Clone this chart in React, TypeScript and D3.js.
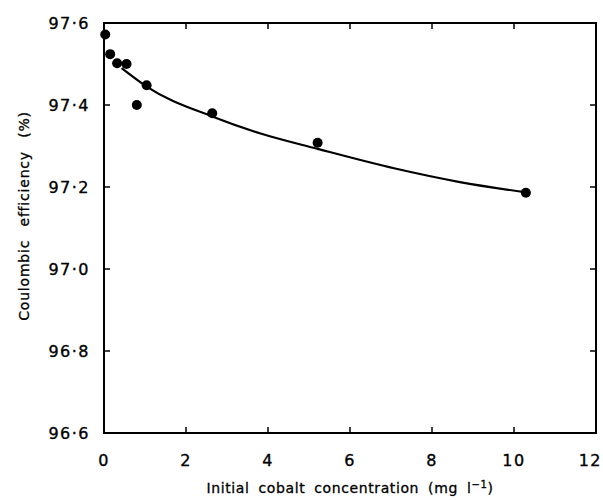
import React from 'react';
import * as d3 from 'd3';

const width = 603;
const height = 500;
const margin = { top: 23, left: 104, right: 7, bottom: 67 };

// measured points
const concX = [0.03, 0.15, 0.32, 0.55, 0.8, 1.04, 2.64, 5.21, 10.29];
const effY = [97.572, 97.524, 97.502, 97.5, 97.4, 97.448, 97.38, 97.308, 97.186];

// fitted curve
const fitX = [0.43, 1.04, 2.64, 3.8, 5.21, 7.1, 8.68, 10.29];
const fitY = [97.49, 97.445, 97.372, 97.331, 97.293, 97.245, 97.212, 97.187];

const xTicks = [0, 2, 4, 6, 8, 10, 12];
const yTicks = [96.6, 96.8, 97.0, 97.2, 97.4, 97.6];

const fmtY = (v: number) => v.toFixed(1).replace('.', '·');
const font = "'DejaVu Sans', sans-serif";

export default function App() {
  const x = d3.scaleLinear([0, 12], [margin.left, width - margin.right]);
  const y = d3.scaleLinear([96.6, 97.6], [height - margin.bottom, margin.top]);
  const x0 = x(0), x1 = x(12), y0 = y(96.6), y1 = y(97.6);
  const tick = 6;

  const line = d3.line<number>()
    .x(i => x(fitX[i]))
    .y(i => y(fitY[i]))
    .curve(d3.curveMonotoneX);
  const path = line(d3.range(fitX.length)) || '';

  return (
    <svg width={width} height={height} style={{ position: 'absolute', left: 0, top: 0, background: '#fff' }}>
      <g stroke="#000" strokeWidth={2} fill="none">
        <rect x={x0} y={y1} width={x1 - x0} height={y0 - y1} />
        {xTicks.slice(1, -1).map(t => (
          <g key={'xt' + t}>
            <line x1={x(t)} x2={x(t)} y1={y0} y2={y0 - tick} strokeWidth={1.5} />
            <line x1={x(t)} x2={x(t)} y1={y1} y2={y1 + tick} strokeWidth={1.5} />
          </g>
        ))}
        {yTicks.slice(1, -1).map(t => (
          <g key={'yt' + t}>
            <line x1={x0} x2={x0 + tick} y1={y(t)} y2={y(t)} strokeWidth={1.5} />
            <line x1={x1} x2={x1 - tick} y1={y(t)} y2={y(t)} strokeWidth={1.5} />
          </g>
        ))}
        <path d={path} strokeWidth={2.2} />
      </g>
      <g fill="#000">
        {concX.map((c, i) => (
          <circle key={'p' + i} cx={x(c)} cy={y(effY[i])} r={5} />
        ))}
      </g>
      <g fontFamily={font} fontSize={16} letterSpacing={1.5} fill="#000" stroke="#000" strokeWidth={0.35}>
        {yTicks.map(t => (
          <text key={'yl' + t} x={x0 - 14} y={y(t)} dy="0.36em" textAnchor="end">{fmtY(t)}</text>
        ))}
        {xTicks.map((t, i) => (
          <text key={'xl' + t} x={i === xTicks.length - 1 ? width - 1 : x(t)} y={y0 + 33}
            textAnchor={i === xTicks.length - 1 ? 'end' : 'middle'}>{t}</text>
        ))}
      </g>
      <text x={(x0 + x1) / 2} y={493} textAnchor="middle" fontFamily={font} fontSize={14}
        letterSpacing={0.6} wordSpacing={4} fill="#000" stroke="#000" strokeWidth={0.3}>
        Initial cobalt concentration (mg l<tspan dy={-5} fontSize={10}>−1</tspan><tspan dy={5}>)</tspan>
      </text>
      <text transform={`translate(29,${216}) rotate(-90)`} textAnchor="middle" fontFamily={font}
        fontSize={14} letterSpacing={0.8} wordSpacing={8} fill="#000" stroke="#000" strokeWidth={0.3}>
        Coulombic efficiency (%)
      </text>
    </svg>
  );
}
